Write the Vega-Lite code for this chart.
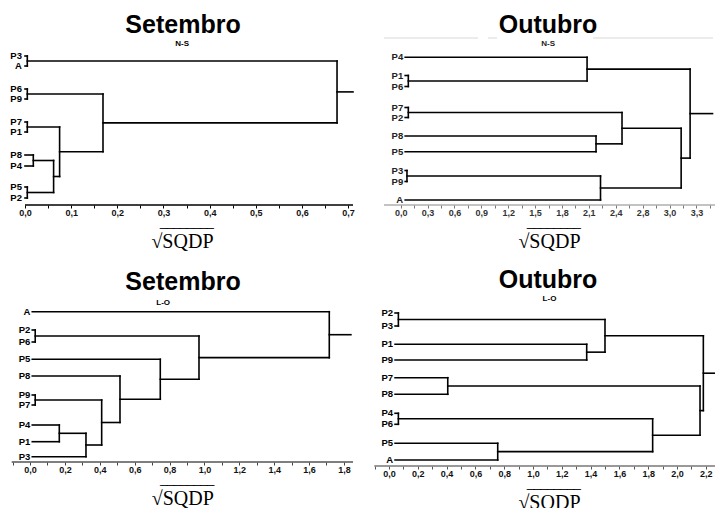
{
  "$schema": "https://vega.github.io/schema/vega-lite/v6.json",
  "background": "white",
  "autosize": {"type": "pad"},
  "padding": {"left": 8, "top": 12, "right": 0, "bottom": 0},
  "columns": 2,
  "spacing": {"row": 100, "column": 17},
  "bounds": "flush",
  "align": "each",
  "config": {
    "view": {"stroke": null},
    "title": {"font": "Liberation Sans", "fontSize": 25, "fontWeight": "bold", "color": "#000", "anchor": "middle", "frame": "group"},
    "axis": {"domain": false, "grid": false, "tickSize": 3, "tickColor": "#222", "tickWidth": 1, "labelFont": "Liberation Sans", "labelFontSize": 9, "labelFontWeight": "bold", "labelColor": "#111", "labelPadding": 0, "labelFlush": false, "labelOverlap": false, "titleFont": "Liberation Serif", "titleFontSize": 20, "titleFontWeight": "normal", "titleColor": "#000", "titleBaseline": "alphabetic", "titleAlign": "right", "titleLineHeight": 3, "titleY": 39},
    "rule": {"color": "#000", "strokeWidth": 1.6, "strokeCap": "square"},
    "text": {"font": "Liberation Sans", "fontSize": 9.5, "fontWeight": "bold", "color": "#000"}
  },
  "datasets": {
    "r1": [
      {"x":0,"x2":0.005,"y":0.8,"y2":0.8},{"x":0,"x2":0.005,"y":1.8,"y2":1.8},{"x":0.005,"x2":0.005,"y":0.8,"y2":1.8},{"x":0.005,"x2":0.676,"y":1.3,"y2":1.3},
      {"x":0,"x2":0.005,"y":4.1,"y2":4.1},{"x":0,"x2":0.005,"y":5.1,"y2":5.1},{"x":0.005,"x2":0.005,"y":4.1,"y2":5.1},{"x":0.005,"x2":0.169,"y":4.6,"y2":4.6},
      {"x":0,"x2":0.005,"y":7.4,"y2":7.4},{"x":0,"x2":0.005,"y":8.4,"y2":8.4},{"x":0.005,"x2":0.005,"y":7.4,"y2":8.4},{"x":0.005,"x2":0.075,"y":7.9,"y2":7.9},
      {"x":0,"x2":0.018,"y":10.7,"y2":10.7},{"x":0,"x2":0.018,"y":11.8,"y2":11.8},{"x":0.018,"x2":0.018,"y":10.7,"y2":11.8},{"x":0.018,"x2":0.062,"y":11.25,"y2":11.25},
      {"x":0,"x2":0.005,"y":13.9,"y2":13.9},{"x":0,"x2":0.005,"y":15.0,"y2":15.0},{"x":0.005,"x2":0.005,"y":13.9,"y2":15.0},{"x":0.005,"x2":0.062,"y":14.45,"y2":14.45},
      {"x":0.062,"x2":0.062,"y":11.25,"y2":14.45},{"x":0.062,"x2":0.075,"y":12.85,"y2":12.85},
      {"x":0.075,"x2":0.075,"y":7.9,"y2":12.85},{"x":0.075,"x2":0.169,"y":10.375,"y2":10.375},
      {"x":0.169,"x2":0.169,"y":4.6,"y2":10.375},{"x":0.169,"x2":0.676,"y":7.49,"y2":7.49},
      {"x":0.676,"x2":0.676,"y":1.3,"y2":7.49},{"x":0.676,"x2":0.7106,"y":4.39,"y2":4.39}
    ],
    "l1": [
      {"n":"P3","x":0,"y":0.8},{"n":"A","x":0,"y":1.8},{"n":"P6","x":0,"y":4.1},{"n":"P9","x":0,"y":5.1},{"n":"P7","x":0,"y":7.4},
      {"n":"P1","x":0,"y":8.4},{"n":"P8","x":0,"y":10.7},{"n":"P4","x":0,"y":11.8},{"n":"P5","x":0,"y":13.9},{"n":"P2","x":0,"y":15.0}
    ],
    "a1": [{"x":0,"x2":0.7106,"y":15.7}],
    "r2": [
      {"x":0.05,"x2":2.08,"y":0.93,"y2":0.93},
      {"x":0.05,"x2":0.085,"y":2.75,"y2":2.75},{"x":0.05,"x2":0.085,"y":3.85,"y2":3.85},{"x":0.085,"x2":0.085,"y":2.75,"y2":3.85},{"x":0.085,"x2":2.08,"y":3.3,"y2":3.3},
      {"x":2.08,"x2":2.08,"y":0.93,"y2":3.3},{"x":2.08,"x2":3.23,"y":2.115,"y2":2.115},
      {"x":0.05,"x2":0.085,"y":5.95,"y2":5.95},{"x":0.05,"x2":0.085,"y":6.95,"y2":6.95},{"x":0.085,"x2":0.085,"y":5.95,"y2":6.95},{"x":0.085,"x2":2.47,"y":6.45,"y2":6.45},
      {"x":0.05,"x2":2.18,"y":8.8,"y2":8.8},{"x":0.05,"x2":2.18,"y":10.37,"y2":10.37},{"x":2.18,"x2":2.18,"y":8.8,"y2":10.37},{"x":2.18,"x2":2.47,"y":9.585,"y2":9.585},
      {"x":2.47,"x2":2.47,"y":6.45,"y2":9.585},{"x":2.47,"x2":3.13,"y":8.02,"y2":8.02},
      {"x":0.05,"x2":0.07,"y":12.25,"y2":12.25},{"x":0.05,"x2":0.07,"y":13.35,"y2":13.35},{"x":0.07,"x2":0.07,"y":12.25,"y2":13.35},{"x":0.07,"x2":2.23,"y":12.8,"y2":12.8},
      {"x":0.05,"x2":2.23,"y":15.2,"y2":15.2},{"x":2.23,"x2":2.23,"y":12.8,"y2":15.2},{"x":2.23,"x2":3.13,"y":14.0,"y2":14.0},
      {"x":3.13,"x2":3.13,"y":8.02,"y2":14.0},{"x":3.13,"x2":3.23,"y":11.01,"y2":11.01},
      {"x":3.23,"x2":3.23,"y":2.115,"y2":11.01},{"x":3.23,"x2":3.48,"y":6.56,"y2":6.56}
    ],
    "l2": [
      {"n":"P4","x":0.05,"y":0.93},{"n":"P1","x":0.05,"y":2.75},{"n":"P6","x":0.05,"y":3.85},{"n":"P7","x":0.05,"y":5.95},{"n":"P2","x":0.05,"y":6.95},
      {"n":"P8","x":0.05,"y":8.8},{"n":"P5","x":0.05,"y":10.37},{"n":"P3","x":0.05,"y":12.25},{"n":"P9","x":0.05,"y":13.35},{"n":"A","x":0.05,"y":15.2}
    ],
    "a2": [{"x":-0.186,"x2":3.508,"y":15.7}],
    "g2": [{"x":-0.186,"x2":0.863,"y":-1.0},{"x":0.975,"x2":1.075,"y":-1.0},{"x":2.146,"x2":3.486,"y":-1.0}],
    "r3": [
      {"x":0.013,"x2":1.716,"y":0.67,"y2":0.67},
      {"x":0.013,"x2":0.03,"y":2.5,"y2":2.5},{"x":0.013,"x2":0.03,"y":3.7,"y2":3.7},{"x":0.03,"x2":0.03,"y":2.5,"y2":3.7},{"x":0.03,"x2":0.969,"y":3.1,"y2":3.1},
      {"x":0.013,"x2":0.747,"y":5.43,"y2":5.43},
      {"x":0.013,"x2":0.516,"y":7.1,"y2":7.1},
      {"x":0.013,"x2":0.03,"y":9.0,"y2":9.0},{"x":0.013,"x2":0.03,"y":10.0,"y2":10.0},{"x":0.03,"x2":0.03,"y":9.0,"y2":10.0},{"x":0.03,"x2":0.411,"y":9.5,"y2":9.5},
      {"x":0.013,"x2":0.168,"y":12.0,"y2":12.0},{"x":0.013,"x2":0.168,"y":13.67,"y2":13.67},{"x":0.168,"x2":0.168,"y":12.0,"y2":13.67},{"x":0.168,"x2":0.321,"y":12.83,"y2":12.83},
      {"x":0.013,"x2":0.321,"y":15.17,"y2":15.17},{"x":0.321,"x2":0.321,"y":12.83,"y2":15.17},{"x":0.321,"x2":0.411,"y":14.0,"y2":14.0},
      {"x":0.411,"x2":0.411,"y":9.5,"y2":14.0},{"x":0.411,"x2":0.516,"y":11.75,"y2":11.75},
      {"x":0.516,"x2":0.516,"y":7.1,"y2":11.75},{"x":0.516,"x2":0.747,"y":9.425,"y2":9.425},
      {"x":0.747,"x2":0.747,"y":5.43,"y2":9.425},{"x":0.747,"x2":0.969,"y":7.43,"y2":7.43},
      {"x":0.969,"x2":0.969,"y":3.1,"y2":7.43},{"x":0.969,"x2":1.716,"y":5.265,"y2":5.265},
      {"x":1.716,"x2":1.716,"y":0.67,"y2":5.265},{"x":1.716,"x2":1.84,"y":2.97,"y2":2.97}
    ],
    "l3": [
      {"n":"A","x":0.013,"y":0.67},{"n":"P2","x":0.013,"y":2.5},{"n":"P6","x":0.013,"y":3.7},{"n":"P5","x":0.013,"y":5.43},{"n":"P8","x":0.013,"y":7.1},
      {"n":"P9","x":0.013,"y":9.0},{"n":"P7","x":0.013,"y":10.0},{"n":"P4","x":0.013,"y":12.0},{"n":"P1","x":0.013,"y":13.67},{"n":"P3","x":0.013,"y":15.17}
    ],
    "a3": [{"x":-0.105,"x2":1.852,"y":15.7}],
    "r4": [
      {"x":0.042,"x2":0.065,"y":0.8,"y2":0.8},{"x":0.042,"x2":0.065,"y":2.1,"y2":2.1},{"x":0.065,"x2":0.065,"y":0.8,"y2":2.1},{"x":0.065,"x2":1.5,"y":1.45,"y2":1.45},
      {"x":0.042,"x2":1.373,"y":3.93,"y2":3.93},{"x":0.042,"x2":1.373,"y":5.5,"y2":5.5},{"x":1.373,"x2":1.373,"y":3.93,"y2":5.5},{"x":1.373,"x2":1.5,"y":4.715,"y2":4.715},
      {"x":1.5,"x2":1.5,"y":1.45,"y2":4.715},{"x":1.5,"x2":2.183,"y":3.08,"y2":3.08},
      {"x":0.042,"x2":0.408,"y":7.27,"y2":7.27},{"x":0.042,"x2":0.408,"y":8.93,"y2":8.93},{"x":0.408,"x2":0.408,"y":7.27,"y2":8.93},{"x":0.408,"x2":2.16,"y":8.1,"y2":8.1},
      {"x":0.042,"x2":0.065,"y":10.83,"y2":10.83},{"x":0.042,"x2":0.065,"y":11.93,"y2":11.93},{"x":0.065,"x2":0.065,"y":10.83,"y2":11.93},{"x":0.065,"x2":1.831,"y":11.38,"y2":11.38},
      {"x":0.042,"x2":0.755,"y":13.83,"y2":13.83},{"x":0.042,"x2":0.755,"y":15.5,"y2":15.5},{"x":0.755,"x2":0.755,"y":13.83,"y2":15.5},{"x":0.755,"x2":1.831,"y":14.665,"y2":14.665},
      {"x":1.831,"x2":1.831,"y":11.38,"y2":14.665},{"x":1.831,"x2":2.16,"y":13.02,"y2":13.02},
      {"x":2.16,"x2":2.16,"y":8.1,"y2":13.02},{"x":2.16,"x2":2.183,"y":10.56,"y2":10.56},
      {"x":2.183,"x2":2.183,"y":3.08,"y2":10.56},{"x":2.183,"x2":2.264,"y":6.82,"y2":6.82}
    ],
    "l4": [
      {"n":"P2","x":0.042,"y":0.8},{"n":"P3","x":0.042,"y":2.1},{"n":"P1","x":0.042,"y":3.93},{"n":"P9","x":0.042,"y":5.5},{"n":"P7","x":0.042,"y":7.27},
      {"n":"P8","x":0.042,"y":8.93},{"n":"P4","x":0.042,"y":10.83},{"n":"P6","x":0.042,"y":11.93},{"n":"P5","x":0.042,"y":13.83},{"n":"A","x":0.042,"y":15.5}
    ],
    "a4": [{"x":-0.102,"x2":2.264,"y":16.1}]
  },
  "concat": [
    {
      "width": 345, "height": 157,
      "title": {"text": "Setembro", "offset": 1, "dx": 2.5},
      "layer": [
        {
          "data": {"name": "r1"},
          "mark": {"type": "rule"},
          "encoding": {
            "x": {"field": "x", "type": "quantitative", "scale": {"domain": [-0.0368, 0.7106], "nice": false, "zero": false},
                  "axis": {"orient": "bottom", "values": [0,0.05,0.1,0.15,0.2,0.25,0.3,0.35,0.4,0.45,0.5,0.55,0.6,0.65,0.7],
                           "labelExpr": "abs(datum.value*10 - round(datum.value*10)) < 0.01 ? replace(format(datum.value, '.1f'), '.', ',') : ''",
                           "title": ["\u203e\u203e\u203e\u203e\u203e\u203e\u203e\u203e", "\u221aSQDP"], "titleX": 205, "tickColor": "#000"}},
            "x2": {"field": "x2"},
            "y": {"field": "y", "type": "quantitative", "scale": {"domain": [0, 15.7], "reverse": true, "nice": false, "zero": false}, "axis": null},
            "y2": {"field": "y2"}
          }
        },
        {
          "data": {"name": "a1"},
          "mark": {"type": "rule", "color": "#000", "strokeWidth": 1.5, "strokeCap": "butt"},
          "encoding": {"x": {"field": "x", "type": "quantitative", "axis": null}, "x2": {"field": "x2"}, "y": {"field": "y", "type": "quantitative", "axis": null}}
        },
        {
          "data": {"name": "l1"},
          "mark": {"type": "text", "align": "right", "baseline": "middle", "dx": -3},
          "encoding": {
            "x": {"field": "x", "type": "quantitative",
                  "axis": {"orient": "top", "domain": false, "ticks": false, "labels": false, "title": "N-S", "titleX": 173.7, "titleY": -5,
                           "titleBaseline": "middle", "titleAlign": "center", "titleFont": "Liberation Sans", "titleFontSize": 8, "titleFontWeight": "bold", "titleColor": "#000"}},
            "y": {"field": "y", "type": "quantitative", "axis": null},
            "text": {"field": "n"}
          }
        }
      ]
    },
    {
      "width": 345, "height": 157,
      "title": {"text": "Outubro", "offset": 0, "dx": 5.5},
      "layer": [
        {
          "data": {"name": "r2"},
          "mark": {"type": "rule"},
          "encoding": {
            "x": {"field": "x", "type": "quantitative", "scale": {"domain": [-0.3426, 3.5078], "nice": false, "zero": false},
                  "axis": {"orient": "bottom", "values": [0,0.15,0.3,0.45,0.6,0.75,0.9,1.05,1.2,1.35,1.5,1.65,1.8,1.95,2.1,2.25,2.4,2.55,2.7,2.85,3.0,3.15,3.3,3.45],
                           "labelExpr": "abs(datum.value/0.3 - round(datum.value/0.3)) < 0.01 ? (abs(datum.value - 2.7) < 0.01 ? '2,8' : replace(format(datum.value, '.1f'), '.', ',')) : ''",
                           "title": ["\u203e\u203e\u203e\u203e\u203e\u203e\u203e\u203e", "\u221aSQDP"], "titleX": 210, "tickColor": "#777", "labelColor": "#333"}},
            "x2": {"field": "x2"},
            "y": {"field": "y", "type": "quantitative", "scale": {"domain": [0, 15.7], "reverse": true, "nice": false, "zero": false}, "axis": null},
            "y2": {"field": "y2"}
          }
        },
        {
          "data": {"name": "a2"},
          "mark": {"type": "rule", "color": "#888", "strokeWidth": 1.2, "strokeCap": "butt"},
          "encoding": {"x": {"field": "x", "type": "quantitative", "axis": null}, "x2": {"field": "x2"}, "y": {"field": "y", "type": "quantitative", "axis": null}}
        },
        {
          "data": {"name": "g2"},
          "mark": {"type": "rule", "color": "#d8d8d8", "strokeWidth": 1, "strokeCap": "butt"},
          "encoding": {"x": {"field": "x", "type": "quantitative", "axis": null}, "x2": {"field": "x2"}, "y": {"field": "y", "type": "quantitative", "axis": null}}
        },
        {
          "data": {"name": "l2"},
          "mark": {"type": "text", "align": "right", "baseline": "middle", "dx": -2, "color": "#222"},
          "encoding": {
            "x": {"field": "x", "type": "quantitative",
                  "axis": {"orient": "top", "domain": false, "ticks": false, "labels": false, "title": "N-S", "titleX": 177.7, "titleY": -4.7,
                           "titleBaseline": "middle", "titleAlign": "center", "titleFont": "Liberation Sans", "titleFontSize": 8, "titleFontWeight": "bold", "titleColor": "#222"}},
            "y": {"field": "y", "type": "quantitative", "axis": null},
            "text": {"field": "n"}
          }
        }
      ]
    },
    {
      "width": 345, "height": 157,
      "title": {"text": "Setembro", "offset": 4, "dx": 2.5},
      "layer": [
        {
          "data": {"name": "r3"},
          "mark": {"type": "rule"},
          "encoding": {
            "x": {"field": "x", "type": "quantitative", "scale": {"domain": [-0.1261, 1.852], "nice": false, "zero": false},
                  "axis": {"orient": "bottom", "values": [-0.1,0,0.1,0.2,0.3,0.4,0.5,0.6,0.7,0.8,0.9,1.0,1.1,1.2,1.3,1.4,1.5,1.6,1.7,1.8],
                           "labelExpr": "datum.value > -0.01 && abs(datum.value*5 - round(datum.value*5)) < 0.01 ? replace(format(datum.value, '.1f'), '.', ',') : ''",
                           "title": ["\u203e\u203e\u203e\u203e\u203e\u203e\u203e\u203e", "\u221aSQDP"], "titleX": 205.3, "tickColor": "#444"}},
            "x2": {"field": "x2"},
            "y": {"field": "y", "type": "quantitative", "scale": {"domain": [0, 15.7], "reverse": true, "nice": false, "zero": false}, "axis": null},
            "y2": {"field": "y2"}
          }
        },
        {
          "data": {"name": "a3"},
          "mark": {"type": "rule", "color": "#555", "strokeWidth": 1.3, "strokeCap": "butt"},
          "encoding": {"x": {"field": "x", "type": "quantitative", "axis": null}, "x2": {"field": "x2"}, "y": {"field": "y", "type": "quantitative", "axis": null}}
        },
        {
          "data": {"name": "l3"},
          "mark": {"type": "text", "align": "right", "baseline": "middle", "dx": -2},
          "encoding": {
            "x": {"field": "x", "type": "quantitative",
                  "axis": {"orient": "top", "domain": false, "ticks": false, "labels": false, "title": "L-O", "titleX": 154.7, "titleY": -2.3,
                           "titleBaseline": "middle", "titleAlign": "center", "titleFont": "Liberation Sans", "titleFontSize": 8, "titleFontWeight": "bold", "titleColor": "#000"}},
            "y": {"field": "y", "type": "quantitative", "axis": null},
            "text": {"field": "n"}
          }
        }
      ]
    },
    {
      "width": 345, "height": 161,
      "title": {"text": "Outubro", "offset": 1, "dx": 5.5},
      "layer": [
        {
          "data": {"name": "r4"},
          "mark": {"type": "rule"},
          "encoding": {
            "x": {"field": "x", "type": "quantitative", "scale": {"domain": [-0.132, 2.264], "nice": false, "zero": false},
                  "axis": {"orient": "bottom", "values": [-0.1,0,0.1,0.2,0.3,0.4,0.5,0.6,0.7,0.8,0.9,1.0,1.1,1.2,1.3,1.4,1.5,1.6,1.7,1.8,1.9,2.0,2.1,2.2],
                           "labelExpr": "datum.value > -0.01 && abs(datum.value*5 - round(datum.value*5)) < 0.01 ? replace(format(datum.value, '.1f'), '.', ',') : ''",
                           "title": ["\u203e\u203e\u203e\u203e\u203e\u203e\u203e\u203e", "\u221aSQDP"], "titleX": 210, "tickColor": "#555"}},
            "x2": {"field": "x2"},
            "y": {"field": "y", "type": "quantitative", "scale": {"domain": [0, 16.1], "reverse": true, "nice": false, "zero": false}, "axis": null},
            "y2": {"field": "y2"}
          }
        },
        {
          "data": {"name": "a4"},
          "mark": {"type": "rule", "color": "#777", "strokeWidth": 1.3, "strokeCap": "butt"},
          "encoding": {"x": {"field": "x", "type": "quantitative", "axis": null}, "x2": {"field": "x2"}, "y": {"field": "y", "type": "quantitative", "axis": null}}
        },
        {
          "data": {"name": "l4"},
          "mark": {"type": "text", "align": "right", "baseline": "middle", "dx": -2},
          "encoding": {
            "x": {"field": "x", "type": "quantitative",
                  "axis": {"orient": "top", "domain": false, "ticks": false, "labels": false, "title": "L-O", "titleX": 179, "titleY": -6.7,
                           "titleBaseline": "middle", "titleAlign": "center", "titleFont": "Liberation Sans", "titleFontSize": 8, "titleFontWeight": "bold", "titleColor": "#000"}},
            "y": {"field": "y", "type": "quantitative", "axis": null},
            "text": {"field": "n"}
          }
        }
      ]
    }
  ]
}
